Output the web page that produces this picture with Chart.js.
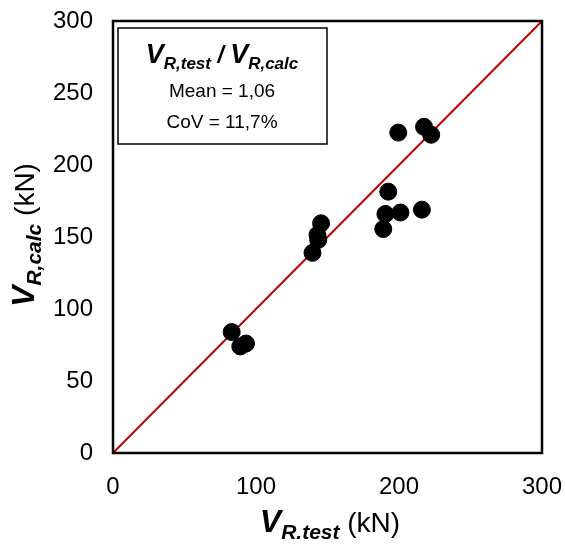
<!DOCTYPE html>
<html>
<head>
<meta charset="utf-8">
<script src="https://cdn.jsdelivr.net/npm/chart.js@4/dist/chart.umd.min.js"></script>
<style>
  html, body { margin: 0; padding: 0; background: #fff; }
  #wrap { width: 565px; height: 545px; }
</style>
</head>
<body>
<div id="wrap"><canvas id="shear-chart"></canvas></div>
<script>
const vTest = [83, 89, 93, 139.5, 143.5, 143, 145.5, 189, 190.5, 192.5, 199.5, 201, 216, 217.5, 222.5];
const vCalc = [84, 74, 76, 139, 148, 151.5, 159.5, 155.5, 166, 181.5, 222.5, 167, 169, 226.5, 221];
const lineX = [0, 300];
const lineY = [0, 300];
const axisTicks = [0, 50, 100, 150, 200, 250, 300];
const statLines = ["Mean = 1,06", "CoV = 11,7%"];

const FONT = "'Liberation Sans', Arial, sans-serif";

function richWidth(ctx, parts) {
    let w = 0;
    parts.forEach(p => { ctx.font = p.font; w += ctx.measureText(p.text).width; });
    return w;
}
function drawRich(ctx, parts, x, y) {
    parts.forEach(p => {
        ctx.font = p.font;
        ctx.fillText(p.text, x, y + (p.dy || 0));
        x += ctx.measureText(p.text).width;
    });
}

const decorations = {
    id: "decorations",
    afterDraw(chart) {
        const ctx = chart.ctx;
        const a = chart.chartArea;
        ctx.save();
        ctx.strokeStyle = "#000";
        ctx.lineWidth = 2.5;
        ctx.strokeRect(a.left, a.top, a.right - a.left, a.bottom - a.top);

        // stats box
        ctx.lineWidth = 1.5;
        ctx.strokeRect(118, 28, 209, 116);
        ctx.fillStyle = "#000";
        ctx.textBaseline = "alphabetic";
        const head = [
            {text: "V", font: "italic bold 27px " + FONT},
            {text: "R,test", font: "italic bold 17px " + FONT, dy: 6},
            {text: " / ", font: "italic bold 23px " + FONT},
            {text: "V", font: "italic bold 27px " + FONT},
            {text: "R,calc", font: "italic bold 17px " + FONT, dy: 6}
        ];
        const hw = richWidth(ctx, head);
        drawRich(ctx, head, 222 - hw / 2, 63);
        ctx.font = "19px " + FONT;
        ctx.textAlign = "center";
        ctx.fillText(statLines[0], 222, 97);
        ctx.fillText(statLines[1], 222, 128);
        ctx.textAlign = "left";

        // x title
        const xt = [
            {text: "V", font: "italic bold 32px " + FONT},
            {text: "R.test", font: "italic bold 21px " + FONT, dy: 7},
            {text: " (kN)", font: "28px " + FONT}
        ];
        const xw = richWidth(ctx, xt);
        drawRich(ctx, xt, 330 - xw / 2, 532);

        // y title
        const yt = [
            {text: "V", font: "italic bold 32px " + FONT},
            {text: "R,calc", font: "italic bold 21px " + FONT, dy: 7},
            {text: " (kN)", font: "28px " + FONT}
        ];
        const yw = richWidth(ctx, yt);
        ctx.translate(34, 235);
        ctx.rotate(-Math.PI / 2);
        drawRich(ctx, yt, -yw / 2, 0);
        ctx.restore();
    }
};

const points = vTest.map((x, i) => ({x: x, y: vCalc[i]}));
const lineData = lineX.map((x, i) => ({x: x, y: lineY[i]}));

new Chart(document.getElementById("shear-chart"), {
    type: "scatter",
    data: {
        datasets: [{
            label: "tests",
            data: points,
            backgroundColor: "#000",
            borderColor: "#000",
            pointRadius: 8.5,
            pointHoverRadius: 8.5,
            order: 1
        }, {
            label: "equality",
            type: "line",
            data: lineData,
            borderColor: "#C00000",
            borderWidth: 2,
            pointRadius: 0,
            fill: false,
            order: 2
        }]
    },
    options: {
        responsive: true,
        maintainAspectRatio: false,
        animation: false,
        layout: { padding: { top: 21, right: 23, left: 0, bottom: 0 } },
        plugins: {
            legend: { display: false },
            tooltip: { enabled: false }
        },
        scales: {
            x: {
                type: "linear",
                min: 0, max: 300,
                afterBuildTicks: s => { s.ticks = axisTicks.filter(v => v % 100 === 0).map(v => ({value: v})); },
                afterFit: s => {
                    s.height = 92;
                    s.paddingLeft = 0;
                    s.paddingRight = 0;
                },
                grid: { display: false, drawTicks: false },
                border: { display: false },
                ticks: { color: "#000", padding: 20, font: { family: FONT, size: 24 } }
            },
            y: {
                min: 0, max: 300,
                afterBuildTicks: s => { s.ticks = axisTicks.map(v => ({value: v})); },
                afterFit: s => {
                    s.width = 113;
                    s.paddingTop = 0;
                    s.paddingBottom = 0;
                },
                grid: { display: false, drawTicks: false },
                border: { display: false },
                ticks: { color: "#000", padding: 20, font: { family: FONT, size: 24 } }
            }
        }
    },
    plugins: [decorations]
});
</script>
</body>
</html>
